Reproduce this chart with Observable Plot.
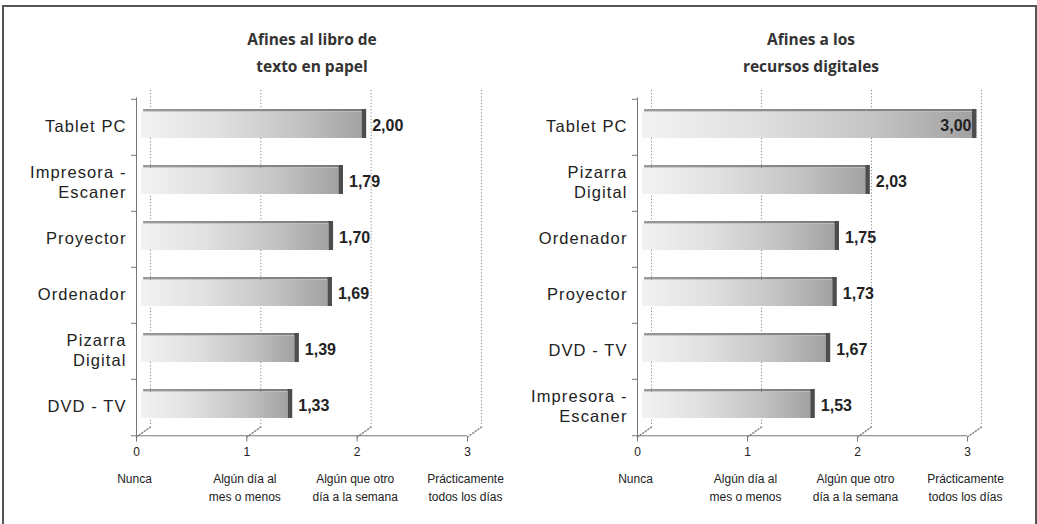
<!DOCTYPE html>
<html><head><meta charset="utf-8">
<script src="https://cdn.jsdelivr.net/npm/d3@7"></script>
<script src="https://cdn.jsdelivr.net/npm/@observablehq/plot@0.6"></script>
<style>
body{margin:0;background:#fff;width:1037px;height:524px;overflow:hidden;position:relative;font-family:"Liberation Sans",Arial,sans-serif}
#frame{position:absolute;left:2px;top:5px;width:1035px;height:530px;border:2px solid #555;box-sizing:border-box}
.title{position:absolute;top:26px;width:260px;text-align:center;font-family:"Open Sans",sans-serif;font-weight:700;font-size:15.5px;line-height:27px;color:#333}
.panel{position:absolute;top:0}
.cat text{letter-spacing:1.1px}
</style></head><body>
<div id="frame"></div>
<div class="title" id="t0"></div>
<div class="title" id="t1"></div>
<div class="panel" id="p0"></div>
<div class="panel" id="p1"></div>
<script>
// ---- data ----
const titlePaper = ["Afines al libro de", "texto en papel"];
const titleDigital = ["Afines a los", "recursos digitales"];
const categoriesPaper = ["Tablet PC", "Impresora - Escaner", "Proyector", "Ordenador", "Pizarra Digital", "DVD - TV"];
const valuesPaper = [2.00, 1.79, 1.70, 1.69, 1.39, 1.33];
const categoriesDigital = ["Tablet PC", "Pizarra Digital", "Ordenador", "Proyector", "DVD - TV", "Impresora - Escaner"];
const valuesDigital = [3.00, 2.03, 1.75, 1.73, 1.67, 1.53];
const xTicks = [0, 1, 2, 3];
const levelLabels = ["Nunca", "Algún día al mes o menos", "Algún que otro día a la semana", "Prácticamente todos los días"];

// ---- layout ----
const H = 524, MT = 97.5, MB = 87.5;
const fmt = v => d3.format(".2f")(v).replace(".", ",");

function gradientDefs() {
  const defs = d3.create("svg:defs");
  const g = defs.append("linearGradient").attr("id", "barGrad")
    .attr("x1", "0").attr("x2", "1").attr("y1", "0").attr("y2", "0");
  [[0, "#f2f2f2"], [0.35, "#e0e0e0"], [0.7, "#c4c4c4"], [1, "#a2a2a2"]]
    .forEach(([o, c]) => g.append("stop").attr("offset", o).attr("stop-color", c));
  const t = defs.append("linearGradient").attr("id", "topGrad")
    .attr("x1", "0").attr("x2", "1").attr("y1", "0").attr("y2", "0");
  [[0, "#9a9a9a"], [1, "#7a7a7a"]]
    .forEach(([o, c]) => t.append("stop").attr("offset", o).attr("stop-color", c));
  return defs.node();
}

const lineShape = {draw(context, l) { context.moveTo(0, 0); context.lineTo(0, -l); }};

function panel(cats, vals, width, ml, mr) {
  const rows = cats.map((c, i) => ({cat: c, value: vals[i]}));
  const step = (H - MT - MB) / cats.length;
  const xMax = d3.max(xTicks);
  return Plot.plot({
    width, height: H,
    marginLeft: ml, marginRight: mr, marginTop: MT, marginBottom: MB,
    style: {background: "none", overflow: "visible", fontFamily: "'Liberation Sans', Arial, sans-serif"},
    x: {domain: [0, xMax], axis: null},
    y: {domain: cats, padding: 0, axis: null},
    marks: [
      gradientDefs,
      // back-wall dotted gridlines
      Plot.ruleX(xTicks, {x: d => d, dx: 14, insetTop: -7.5, insetBottom: 10, stroke: "#8a8a8a", strokeDasharray: "1.2,2"}),
      Plot.vector(xTicks, {x: d => d, frameAnchor: "bottom", length: 17, rotate: 54.5, anchor: "start", shape: lineShape, stroke: "#8a8a8a", strokeDasharray: "1.2,2"}),
      // axes lines
      Plot.ruleX([0], {stroke: "#777"}),
      Plot.ruleY(cats, {y: d => d, dy: -step / 2, x1: 0, x2: 0, insetLeft: -5, stroke: "#777"}),
      Plot.ruleY(cats.slice(-1), {y: d => d, dy: step / 2, x1: 0, x2: xMax, insetLeft: -5, stroke: "#777"}),
      Plot.axisX({ticks: xTicks, label: null, tickSize: 5, tickPadding: 5, fontSize: 12, stroke: "#777", fill: "#222", tickFormat: d => d}),
      // 3D bars: top face, front face, side face
      Plot.barX(rows, {x: "value", y: "cat", dx: 7, insetTop: 10, insetBottom: step - 13, insetRight: -2, fill: "url(#topGrad)"}),
      Plot.barX(rows, {x: "value", y: "cat", dx: 5, insetTop: 13, insetBottom: step - 39.5, fill: "url(#barGrad)"}),
      Plot.barX(rows, {x1: "value", x2: "value", y: "cat", dx: 5, insetRight: -4.5, insetTop: 10, insetBottom: step - 39.5, fill: "#4d4d4d"}),
      // value labels
      Plot.text(rows.filter(d => d.value < xMax), {x: "value", y: "cat", text: d => fmt(d.value), dx: 15, dy: -2, textAnchor: "start", fontWeight: "bold", fontSize: 16, fill: "#222"}),
      Plot.text(rows.filter(d => d.value >= xMax), {x: "value", y: "cat", text: d => fmt(d.value), dx: 4, dy: -2, textAnchor: "end", fontWeight: "bold", fontSize: 16, fill: "#222"}),
      // category labels
      Plot.text(cats, {y: d => d, text: d => d, frameAnchor: "left", dx: -10, dy: -2, textAnchor: "end", lineAnchor: "middle", lineWidth: 6, lineHeight: 1.2, fontSize: 16.5, fill: "#222", className: "cat"}),
      // frequency level labels
      Plot.text(levelLabels, {x: (d, i) => xTicks[i], text: d => d, frameAnchor: "bottom", dy: 32.5, dx: -2, lineAnchor: "top", lineWidth: 8, lineHeight: 1.55, fontSize: 12, fill: "#222"})
    ]
  });
}

const t0 = document.getElementById("t0"), t1 = document.getElementById("t1");
t0.innerHTML = titlePaper.join("<br>");
t1.innerHTML = titleDigital.join("<br>");
t0.style.left = (312 - 130) + "px";
t1.style.left = (811 - 130) + "px";

const p0 = document.getElementById("p0"), p1 = document.getElementById("p1");
p0.style.left = "0px"; p1.style.left = "500px";
p0.append(panel(categoriesPaper, valuesPaper, 500, 136, 33));
p1.append(panel(categoriesDigital, valuesDigital, 537, 137, 70));
</script>
</body></html>
